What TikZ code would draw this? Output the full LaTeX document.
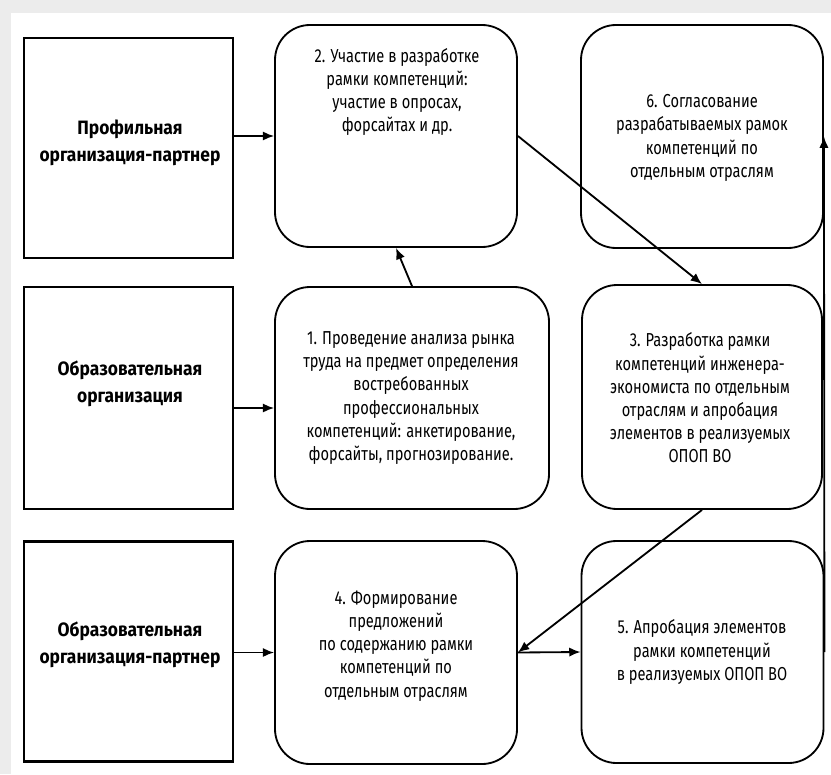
\documentclass[tikz,border=0pt]{standalone}
\usepackage{fontspec}
\setmainfont{Fira Sans}[FakeStretch=0.78]
\newfontfamily\labelfont{Fira Sans}[FakeStretch=0.9]
\usetikzlibrary{arrows.meta,calc}

\begin{document}
\begin{tikzpicture}[x=0.3mm,y=-0.3mm,
    sqbox/.style={draw,line width=0.7mm,minimum width=62.7mm,minimum height=66mm},
    rbox/.style={draw,line width=0.55mm,rounded corners=10.5mm,minimum width=72.6mm,minimum height=66.6mm},
    txt/.style={align=center,font=\fontsize{16}{19.8}\selectfont},
    btxt/.style={align=center,font=\labelfont\bfseries\fontsize{16.5}{23}\selectfont},
    arr/.style={-{Latex[length=3.4mm,width=2.8mm]},line width=0.55mm}]
    \useasboundingbox (0,0) rectangle (831,774);
    \fill[gray!15] (0,0) rectangle (831,774);
    \fill[white] (11,13) rectangle (831,774);
    % left column
    \node[sqbox] (prof) at (128.5,148) {};
    \node[sqbox,minimum height=66.6mm] (obr) at (128.5,398) {};
    \node[sqbox] (obrp) at (128.5,651.5) {};
    \node[btxt] (prof-t) at (130,143) {Профильная\\организация-партнер};
    \node[btxt] (obr-t) at (130,384) {Образовательная\\организация};
    \node[btxt] (obrp-t) at (130,645) {Образовательная\\организация-партнер};
    % steps
    \node[rbox,minimum width=82.2mm] (s1) at (412,398) {};
    \node[rbox] (s2) at (396,136) {};
    \node[rbox,minimum width=72mm,minimum height=67.2mm] (s3) at (702,397) {};
    \node[rbox,minimum height=66.9mm] (s4) at (396,652.5) {};
    \node[rbox] (s5) at (702.5,652) {};
    \node[rbox,minimum height=66.9mm] (s6) at (702,136.5) {};
    \node[txt] (s1-t) at (411,398) {1. Проведение анализа рынка\\труда на предмет определения\\востребованных\\профессиональных\\компетенций: анкетирование,\\форсайты, прогнозирование.};
    \node[txt] (s2-t) at (397,92) {2. Участие в разработке\\рамки компетенций:\\участие в опросах,\\форсайтах и др.};
    \node[txt] (s3-t) at (700,398) {3. Разработка рамки\\компетенций инженера-\\экономиста по отдельным\\отраслям и апробация\\элементов в реализуемых\\ОПОП ВО};
    \node[txt] (s4-t) at (396,646) {4. Формирование\\предложений\\по содержанию рамки\\компетенций по\\отдельным отраслям};
    \node[txt] (s5-t) at (702,652) {5. Апробация элементов\\рамки компетенций\\в реализуемых ОПОП ВО};
    \node[txt] (s6-t) at (702,138) {6. Согласование\\разрабатываемых рамок\\компетенций по\\отдельным отраслям};
    % arrows
    \draw[arr] (prof.east |- s2.west) -- (s2.west);
    \draw[arr] ([yshift=-3mm]obr.east) -- ([yshift=-3mm]s1.west);
    \draw[arr] (obrp.east |- s4.west) -- (s4.west);
    \draw[arr] (s1.north) -- (s2.south);
    \draw[arr] (s2.east) -- (s3.north);
    \draw[arr] (s3.south) -- (s4.east);
    \draw[arr] (s4.east) -- (s5.west);
    \draw[arr] (s5.east) -- (s6.east);
\end{tikzpicture}
\end{document}
